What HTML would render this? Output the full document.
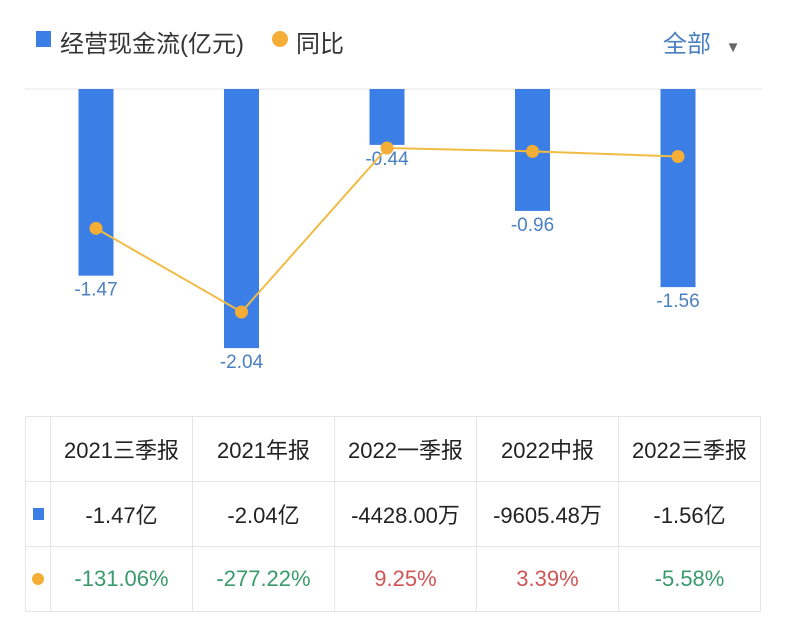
<!DOCTYPE html>
<html><head><meta charset="utf-8"><style>
body{margin:0;width:785px;height:633px;background:#fff;font-family:"Liberation Sans","Noto Sans CJK SC",sans-serif;overflow:hidden;position:relative}
.abs{position:absolute}
table{position:absolute;left:25px;top:416px;border-collapse:collapse}
td{border:1px solid #e6e6e6;text-align:center;font-size:22px;color:#222;height:64px;padding:0;white-space:nowrap}
td.c0{width:24px}
td.c{width:141px}
.g{color:#3a9a6e}.r{color:#d05555}
</style></head><body>
<div class="abs" style="left:36px;top:31px;width:15px;height:16px;background:#3b7fe6"></div>
<div class="abs" style="left:60px;top:24px;font-size:24px;color:#333">经营现金流(亿元)</div>
<div class="abs" style="left:272px;top:31px;width:16px;height:16px;border-radius:50%;background:#f5ae35"></div>
<div class="abs" style="left:296px;top:24px;font-size:24px;color:#333">同比</div>
<div class="abs" style="left:663px;top:24px;font-size:24px;color:#4a7fc0">全部 <span style="font-size:15px;color:#666;margin-left:8px">▼</span></div>
<svg id="chart" class="abs" style="left:0;top:0" width="785" height="400"></svg>
<table>
<tr><td class="c0"></td><td class="c">2021三季报</td><td class="c">2021年报</td><td class="c">2022一季报</td><td class="c">2022中报</td><td class="c">2022三季报</td></tr>
<tr><td class="c0"><div style="width:11px;height:12px;background:#3b7fe6;margin:auto"></div></td><td>-1.47亿</td><td>-2.04亿</td><td>-4428.00万</td><td>-9605.48万</td><td>-1.56亿</td></tr>
<tr><td class="c0"><div style="width:12px;height:12px;border-radius:50%;background:#f5ae35;margin:auto"></div></td><td class="g">-131.06%</td><td class="g">-277.22%</td><td class="r">9.25%</td><td class="r">3.39%</td><td class="g">-5.58%</td></tr>
</table>
<script>
const categories=["2021三季报","2021年报","2022一季报","2022中报","2022三季报"];
const cashFlow=[-1.47,-2.04,-0.44,-0.96,-1.56];
const yoy=[-131.06,-277.22,9.25,3.39,-5.58];
const svg=document.getElementById('chart');
const NS='http://www.w3.org/2000/svg';
const x=i=>96+i*145.5;
const yBar=v=>89-v*127;
const yLine=v=>153.3-v*0.5725;
function mk(t,a){const e=document.createElementNS(NS,t);for(const k in a)e.setAttribute(k,a[k]);svg.appendChild(e);return e;}
const grid=mk('line',{x1:25,x2:762,y1:89,y2:89,stroke:'#e6e6e6','stroke-width':1});


cashFlow.forEach((v,i)=>{
 const b=mk('rect',{x:x(i)-17.5,y:89,width:35,height:yBar(v)-89,fill:'#3b7fe6'});
 
 
 const t=mk('text',{x:x(i),y:yBar(v)+20,'text-anchor':'middle','font-size':19,fill:'#4a7fc0','font-family':'Liberation Sans, sans-serif'});
 t.textContent=v.toFixed(2);
 
 
});
const pl=mk('polyline',{points:yoy.map((v,i)=>x(i)+','+yLine(v)).join(' '),fill:'none',stroke:'#f0bc45','stroke-width':2});


yoy.forEach((v,i)=>{
 const c=mk('circle',{cx:x(i),cy:yLine(v),r:6.5,fill:'#f5ae35'});
 
 
});
</script>
</body></html>
